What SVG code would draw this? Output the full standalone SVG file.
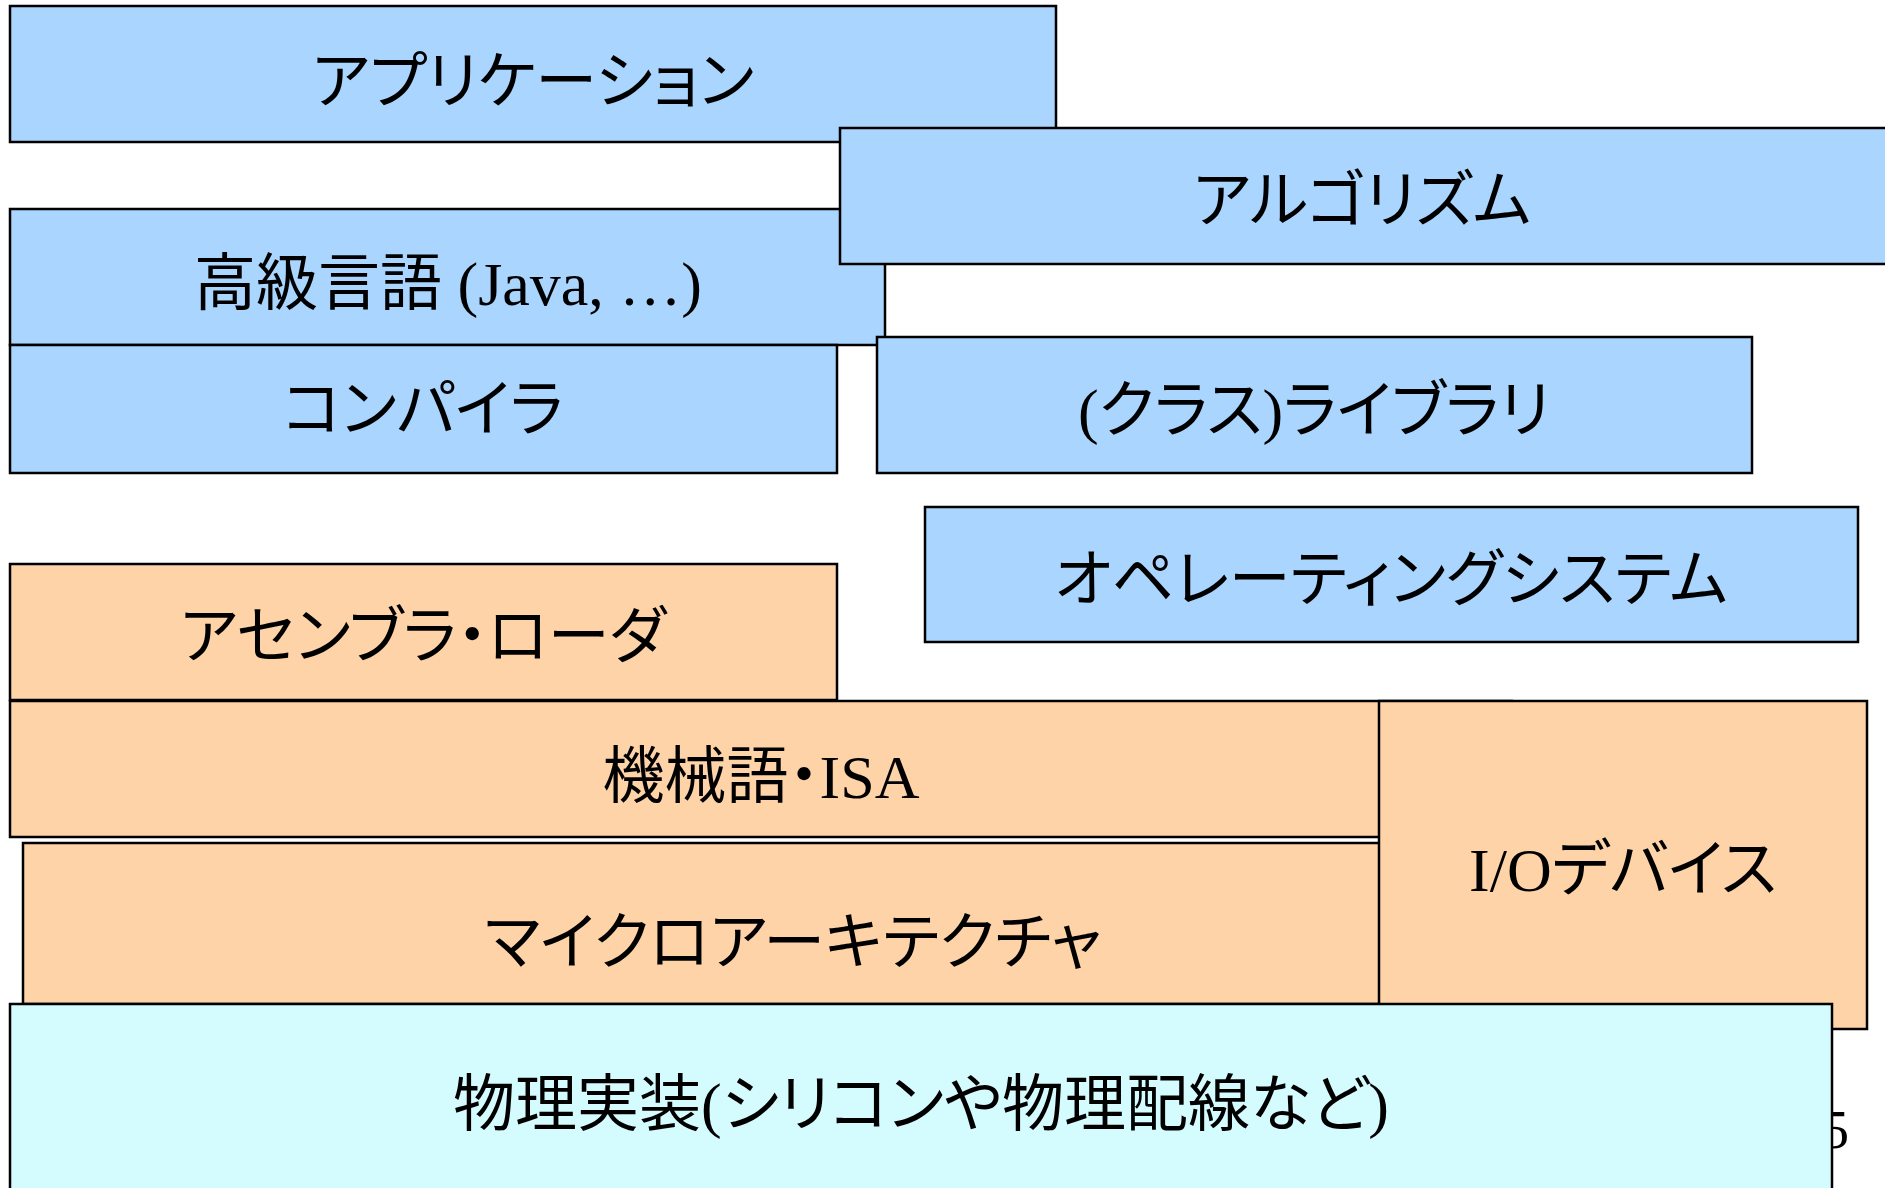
<svg xmlns="http://www.w3.org/2000/svg" width="1885" height="1188" viewBox="0 0 1885 1188">
<style>
.b,.o,.c{stroke:#000;stroke-width:2.5}
.b{fill:#A9D5FE}
.o{fill:#FED3A8}
.c{fill:#D4FCFF}
text{font-family:"Liberation Serif","Noto Sans CJK JP",serif;font-size:62px;fill:#000;text-anchor:middle;font-feature-settings:"palt"}
</style>
<rect width="1885" height="1188" fill="#fff"/>
<g id="app"><rect class="b" x="10" y="6" width="1046" height="136"/><text x="533" y="103">アプリケーション</text></g>
<g id="hll"><rect class="b" x="10" y="209" width="875" height="136"/><text x="448" y="305">高級言語 (Java, …)</text></g>
<g id="compiler"><rect class="b" x="10" y="345" width="827" height="128"/><text x="423" y="431">コンパイラ</text></g>
<g id="algo"><rect class="b" x="840" y="128" width="1050" height="136"/><text x="1362" y="222">アルゴリズム</text></g>
<g id="lib"><rect class="b" x="877" y="337" width="875" height="136"/><text x="1314" y="432">(クラス)ライブラリ</text></g>
<g id="os"><rect class="b" x="925" y="507" width="933" height="135"/><text x="1391" y="601">オペレーティングシステム</text></g>
<g id="asm"><rect class="o" x="10" y="564" width="827" height="136"/><text x="423" y="658">アセンブラ・ローダ</text></g>
<g id="isa"><rect class="o" x="10" y="701" width="1502" height="136"/><text x="761" y="798">機械語・ISA</text></g>
<g id="uarch"><rect class="o" x="23" y="843" width="1541" height="161"/><text x="793" y="964">マイクロアーキテクチャ</text></g>
<g id="io"><rect class="o" x="1379" y="701" width="488" height="328"/><text x="1623" y="891">I/Oデバイス</text></g>
<text x="1822" y="1148" style="font-size:54px;text-anchor:start">5</text>
<g id="phys"><rect class="c" x="10" y="1004" width="1822" height="200"/><text x="921" y="1126">物理実装(シリコンや物理配線など)</text></g>
<g id="connectors"/>
</svg>
